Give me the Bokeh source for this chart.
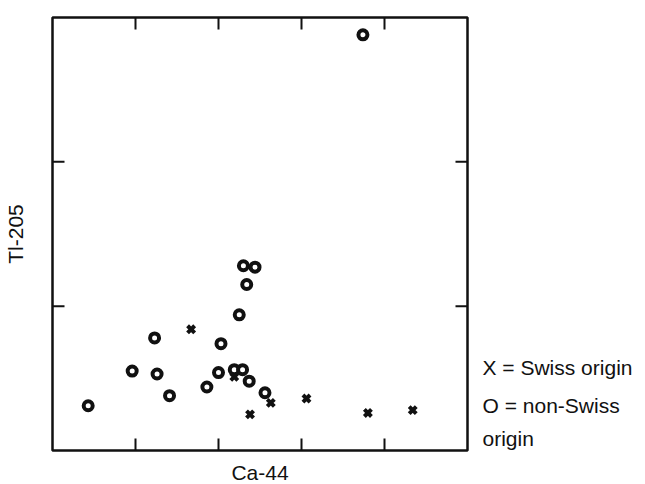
import math
from bokeh.plotting import figure
from bokeh.models import Range1d, LinearAxis, FixedTicker
from bokeh.embed import file_html
from bokeh.resources import INLINE

# non-Swiss origin (circles)
nonswiss_ca = [0.43, 0.96, 1.26, 1.23, 1.41, 1.86, 2.00, 2.03, 2.19, 2.29, 2.37, 2.56, 2.25, 2.34, 2.30, 2.44, 3.74]
nonswiss_tl = [0.31, 0.55, 0.53, 0.78, 0.38, 0.44, 0.54, 0.74, 0.56, 0.56, 0.48, 0.40, 0.94, 1.15, 1.28, 1.27, 2.88]
# Swiss origin (crosses)
swiss_ca = [1.67, 2.19, 2.63, 2.38, 3.06, 3.80, 4.34]
swiss_tl = [0.84, 0.51, 0.33, 0.25, 0.36, 0.26, 0.28]

X_MIN, X_MAX = 0, 5
Y_MIN, Y_MAX = 0, 3
x_ticks = [1, 2, 3, 4]
y_ticks = [1, 2]
legend_lines = ["X = Swiss origin", "O = non-Swiss", "origin"]
legend_y = [0.575, 0.31, 0.083]

FONT = "Liberation Sans"
INK = "#111111"

p = figure(frame_width=415, frame_height=433, output_backend="svg", toolbar_location=None,
           x_range=Range1d(X_MIN, X_MAX), y_range=Range1d(Y_MIN, Y_MAX),
           min_border_left=50, min_border_top=17, min_border_right=0, min_border_bottom=0,
           x_axis_location=None, y_axis_location=None)
p.xgrid.visible = False
p.ygrid.visible = False
p.outline_line_color = INK
p.outline_line_width = 2.5
p.background_fill_color = "white"
p.border_fill_color = "white"

def bare_axis(ticks):
    a = LinearAxis(ticker=FixedTicker(ticks=ticks))
    a.major_tick_in = 0
    a.major_tick_out = 0
    a.minor_tick_in = 0
    a.minor_tick_out = 0
    a.major_tick_line_color = None
    a.minor_tick_line_color = None
    a.axis_line_color = None
    a.axis_label_text_font = FONT
    a.axis_label_text_font_size = "21px"
    a.axis_label_text_font_style = "normal"
    a.axis_label_text_color = INK
    return a

xa = bare_axis([])
xa.axis_label = "Ca-44"
xa.axis_label_standoff = 10
p.add_layout(xa, "below")

ya = bare_axis([])
ya.axis_label = "Tl-205"
ya.axis_label_standoff = 26
p.add_layout(ya, "left")

# legend text as labels of a right-hand axis
la = bare_axis(legend_y)
la.major_label_overrides = {v: t for v, t in zip(legend_y, legend_lines)}
la.major_label_text_font = FONT
la.major_label_text_font_size = "21px"
la.major_label_text_color = INK
la.major_label_standoff = 15
p.add_layout(la, "right")

# inward tick marks on all four sides (half of each dash is clipped by the frame)
tick_x = x_ticks + x_ticks
tick_xy = [Y_MIN] * len(x_ticks) + [Y_MAX] * len(x_ticks)
p.scatter(tick_x, tick_xy, marker="dash", size=24, angle=math.pi / 2,
          line_color=INK, line_width=2)
tick_y = y_ticks + y_ticks
tick_yx = [X_MIN] * len(y_ticks) + [X_MAX] * len(y_ticks)
p.scatter(tick_yx, tick_y, marker="dash", size=24, angle=0,
          line_color=INK, line_width=2)

p.scatter(nonswiss_ca, nonswiss_tl, marker="circle", size=9, line_width=4,
          line_color=INK, fill_color="white")
p.scatter(swiss_ca, swiss_tl, marker="x", size=10, line_width=4, line_color=INK)

open("out.html", "w").write(file_html(p, INLINE))
